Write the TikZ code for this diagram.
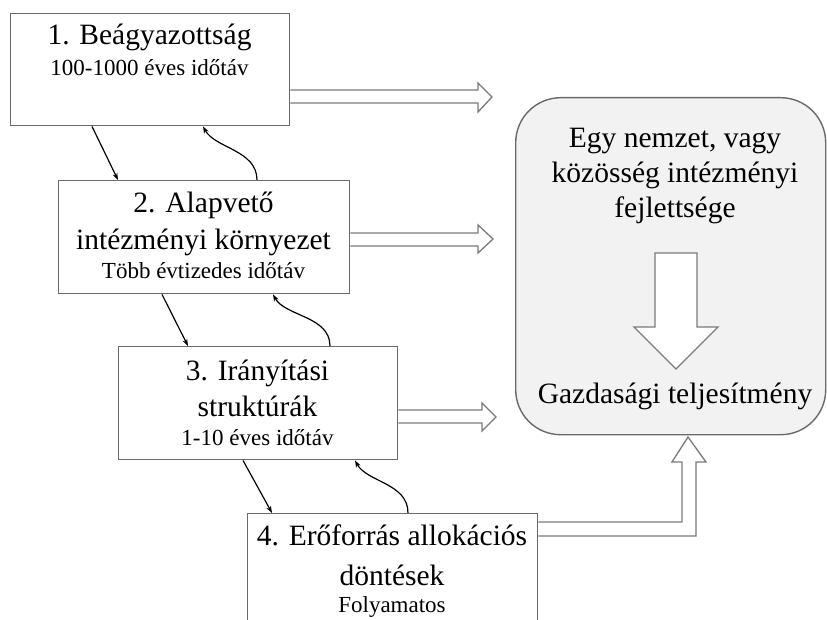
\documentclass[tikz,border=0pt]{standalone}
\usepackage{fontspec}
\setmainfont{Liberation Serif}
\usetikzlibrary{calc,arrows.meta}
\definecolor{boxline}{HTML}{6A6A6A}
\definecolor{hollowline}{HTML}{7A7A7A}
\definecolor{bigfill}{HTML}{F2F2F2}
\tikzset{
  stagebox/.style={draw=boxline, line width=1.4pt, fill=white, rectangle, inner sep=0pt, anchor=north west},
  bigbox/.style={draw=boxline, line width=1.4pt, fill=bigfill, rectangle, rounded corners=45pt, inner sep=0pt, anchor=north west},
  ttl/.style={anchor=base, inner sep=0pt, font=\fontsize{29.5}{35}\selectfont},
  sub/.style={anchor=base, inner sep=0pt, font=\fontsize{23}{27}\selectfont},
  hollow/.style={draw=hollowline, line width=1.3pt, fill=white, line join=miter},
  thinarr/.style={draw=black, line width=1.2pt, -{Stealth[length=7pt,width=5pt]}},
}
\begin{document}
\begin{tikzpicture}[x=1pt,y=1pt]
\useasboundingbox (0,0) rectangle (827,-620);
\clip (0,0) rectangle (827,-620);
\fill[white] (0,0) rectangle (827,-620);

% big rounded box
\node[bigbox, minimum width=310pt, minimum height=337pt] (big) at (515,-97) {};

% stage boxes
\node[stagebox, minimum width=279pt, minimum height=112pt] (b1) at (10,-13) {};
\node[stagebox, minimum width=291pt, minimum height=113pt] (b2) at (58,-180) {};
\node[stagebox, minimum width=279pt, minimum height=113pt] (b3) at (118,-346) {};
\node[stagebox, minimum width=290pt, minimum height=140pt] (b4) at (247,-513) {};

% texts
\node[ttl] (t1a) at (149.5,-45) {1. Beágyazottság};
\node[sub] (t1b) at (149.5,-76) {100-1000 éves időtáv};
\node[ttl] (t2a) at (203.5,-213) {2. Alapvető};
\node[ttl] (t2b) at (203.5,-250) {intézményi környezet};
\node[sub] (t2c) at (203.5,-279) {Több évtizedes időtáv};
\node[ttl] (t3a) at (257.5,-380) {3. Irányítási};
\node[ttl] (t3b) at (257.5,-416) {struktúrák};
\node[sub] (t3c) at (257.5,-445) {1-10 éves időtáv};
\node[ttl] (t4a) at (392,-545) {4. Erőforrás allokációs};
\node[ttl] (t4b) at (392,-585) {döntések};
\node[sub] (t4c) at (392,-612) {Folyamatos};
\node[ttl] (g1) at (675,-148) {Egy nemzet, vagy};
\node[ttl] (g2) at (675,-183) {közösség intézményi};
\node[ttl] (g3) at (675,-218) {fejlettsége};
\node[ttl] (g4) at (675,-403) {Gazdasági teljesítmény};

% hollow arrows to the big box
\draw[hollow] (b1.east |- 0,-90) -- (478,-90) -- (478,-83) -- (492,-97) -- (478,-112) -- (478,-103) -- (b1.east |- 0,-103);
\draw[hollow] (b2.east |- 0,-233) -- (478,-233) -- (478,-225) -- (493,-239) -- (478,-253) -- (478,-246) -- (b2.east |- 0,-246);
\draw[hollow] (b3.east |- 0,-410) -- (482,-410) -- (482,-403) -- (496,-417) -- (482,-431) -- (482,-423) -- (b3.east |- 0,-423);
% bent hollow arrow from box 4 up to the big box
\draw[hollow] (b4.east |- 0,-522) -- (682,-522) -- (682,-462) -- (672,-462) -- (688,-437) -- (706,-462) -- (696,-462) -- (696,-536) -- (b4.east |- 0,-536);
% hollow down arrow inside the big box
\draw[hollow] (655,-253) -- (697,-253) -- (697,-327) -- (718,-327) -- (676,-369) -- (634,-327) -- (655,-327) -- cycle;

% thin arrows between the stages
\draw[thinarr] ($(b1.south west)+(82,0)$) -- ($(b2.north west)+(60,0)$);
\draw[thinarr] ($(b2.north west)+(199,0)$) .. controls +(0,30) and +(12,-22) .. ($(b1.south west)+(193,0)$);
\draw[thinarr] ($(b2.south west)+(104,0)$) -- ($(b3.north west)+(70,0)$);
\draw[thinarr] ($(b3.north west)+(212,0)$) .. controls +(0,30) and +(12,-22) .. ($(b2.south west)+(215,0)$);
\draw[thinarr] ($(b3.south west)+(125,0)$) -- ($(b4.north west)+(25,0)$);
\draw[thinarr] ($(b4.north west)+(161,0)$) .. controls +(0,30) and +(12,-22) .. ($(b3.south west)+(237,0)$);
\end{tikzpicture}
\end{document}
